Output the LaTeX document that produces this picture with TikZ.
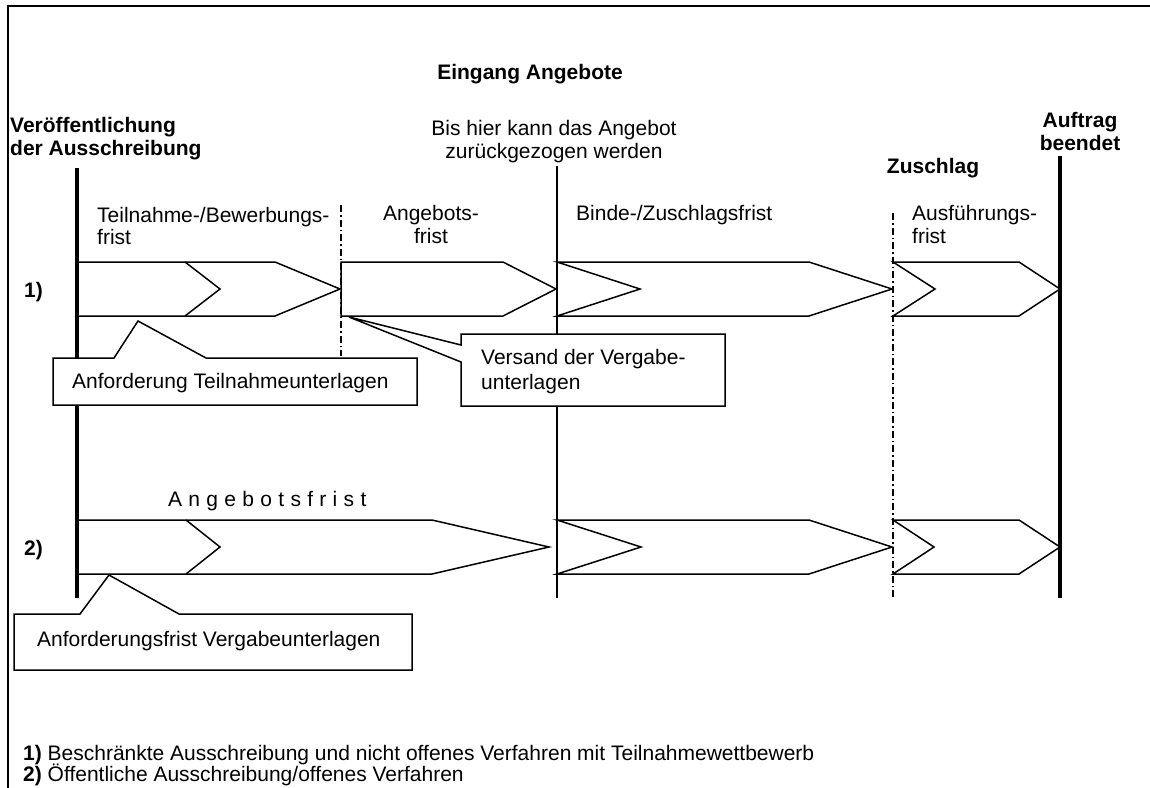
\documentclass[tikz,border=0pt]{standalone}
\usepackage{fontspec}
\setmainfont{Liberation Sans}
\begin{document}
\begin{tikzpicture}[x=1pt,y=-1pt,
  lbl/.style={inner sep=0pt, font=\fontsize{21}{24}\selectfont},
  blbl/.style={inner sep=0pt, font=\fontsize{21}{24}\selectfont\bfseries},
  shp/.style={draw=black, line width=1.5pt, fill=white, line join=miter},
  notch/.style={draw=black, line width=1.5pt, line join=miter},
  callout/.style={draw=black, line width=1.5pt, fill=white, line join=miter},
  vthick/.style={line width=3.2pt},
  vthin/.style={line width=1.7pt},
  dashdot/.style={line width=1.5pt, dash pattern=on 7pt off 3pt on 1.5pt off 3pt},
  frameline/.style={line width=2.7pt}]
\useasboundingbox (0,0) rectangle (1150,787);

% frame (top and left edges)
\coordinate (FTL) at (8,6);
\coordinate (FTR) at (1152,6);
\coordinate (FBL) at (8,790);
\draw[frameline] (FBL) -- (FTL) -- (FTR);

% ---------- Row 1 shapes ----------
\draw[shp] (77,262) -- (275,262) -- (340,289) -- (275,316) -- (77,316) -- cycle;
\draw[notch] (185,262) -- (220,289) -- (185,316);
\draw[shp] (341,262) -- (503,262) -- (556,289) -- (503,316) -- (341,316) -- cycle;
\draw[shp] (557,262) -- (809,262) -- (892,289) -- (809,316) -- (557,316) -- (640,289) -- cycle;
\draw[shp] (893,262) -- (1019,262) -- (1060,289) -- (1019,316) -- (893,316) -- (935,289) -- cycle;

% ---------- Row 2 shapes ----------
\draw[shp] (77,520) -- (432,520) -- (549,547) -- (432,574) -- (77,574) -- cycle;
\draw[notch] (186,520) -- (220,547) -- (186,574);
\draw[shp] (557,520) -- (809,520) -- (892,547) -- (809,574) -- (557,574) -- (641,547) -- cycle;
\draw[shp] (893,520) -- (1019,520) -- (1060,547) -- (1019,574) -- (893,574) -- (934,547) -- cycle;

% ---------- vertical time lines ----------
\coordinate (V1t) at (77,168);  \coordinate (V1b) at (77,598);
\coordinate (V2t) at (341,205); \coordinate (V2b) at (341,356);
\coordinate (V3t) at (557,166); \coordinate (V3b) at (557,598);
\coordinate (V4t) at (893,213); \coordinate (V4b) at (893,598);
\coordinate (V5t) at (1060,156); \coordinate (V5b) at (1060,598);
\draw[vthick] (V1t) -- (V1b);
\draw[dashdot] (V2t) -- (V2b);
\draw[vthin] (V3t) -- (V3b);
\draw[dashdot] (V4t) -- (V4b);
\draw[vthick] (V5t) -- (V5b);

% ---------- callouts ----------
\draw[callout] (53,358) -- (114,358) -- (138,321) -- (206,358) -- (417,358) -- (417,405) -- (53,405) -- cycle;
\node[lbl, anchor=base west] (c1) at (72,388) {Anforderung Teilnahmeunterlagen};

\draw[callout] (461,334) -- (725,334) -- (725,406) -- (461,406) -- (461,362) -- (349,317) -- (461,345) -- cycle;
\node[lbl, anchor=base west] (c2a) at (481,364) {Versand der Vergabe-};
\node[lbl, anchor=base west] (c2b) at (481,389) {unterlagen};

\draw[callout] (14,614) -- (80,614) -- (109,575) -- (179,614) -- (412,614) -- (412,670) -- (14,670) -- cycle;
\node[lbl, anchor=base west] (c3) at (37,646) {Anforderungsfrist Vergabeunterlagen};

% ---------- top labels ----------
\node[blbl, anchor=base] (eing) at (530,79) {Eingang Angebote};
\node[blbl, anchor=base west] (veroe1) at (10,132) {Veröffentlichung};
\node[blbl, anchor=base west] (veroe2) at (10,155) {der Ausschreibung};
\node[lbl, anchor=base] (bis1) at (554,135) {Bis hier kann das Angebot};
\node[lbl, anchor=base] (bis2) at (554,158) {zurückgezogen werden};
\node[blbl, anchor=base] (zus) at (933,173) {Zuschlag};
\node[blbl, anchor=base] (auf1) at (1080,127) {Auftrag};
\node[blbl, anchor=base] (auf2) at (1080,150) {beendet};

% ---------- period labels ----------
\node[lbl, anchor=base west] (tb1) at (97,222) {Teilnahme-/Bewerbungs-};
\node[lbl, anchor=base west] (tb2) at (97,244) {frist};
\node[lbl, anchor=base] (af1) at (431,220) {Angebots-};
\node[lbl, anchor=base] (af2) at (431,243) {frist};
\node[lbl, anchor=base west] (bz) at (576,220) {Binde-/Zuschlagsfrist};
\node[lbl, anchor=base west] (au1) at (912,220) {Ausführungs-};
\node[lbl, anchor=base west] (au2) at (912,243) {frist};
\node[lbl, anchor=base west] (af3) at (168,506) {\addfontfeature{LetterSpace=30}Angebotsfrist};

% ---------- row markers ----------
\node[blbl, anchor=base west] (r1) at (24,297) {1)};
\node[blbl, anchor=base west] (r2) at (24,555) {2)};

% ---------- footnotes ----------
\node[lbl, anchor=base west] (fn1) at (23,760) {\textbf{1)} Beschränkte Ausschreibung und nicht offenes Verfahren mit Teilnahmewettbewerb};
\node[lbl, anchor=base west] (fn2) at (23,781) {\textbf{2)} Öffentliche Ausschreibung/offenes Verfahren};
\end{tikzpicture}
\end{document}
